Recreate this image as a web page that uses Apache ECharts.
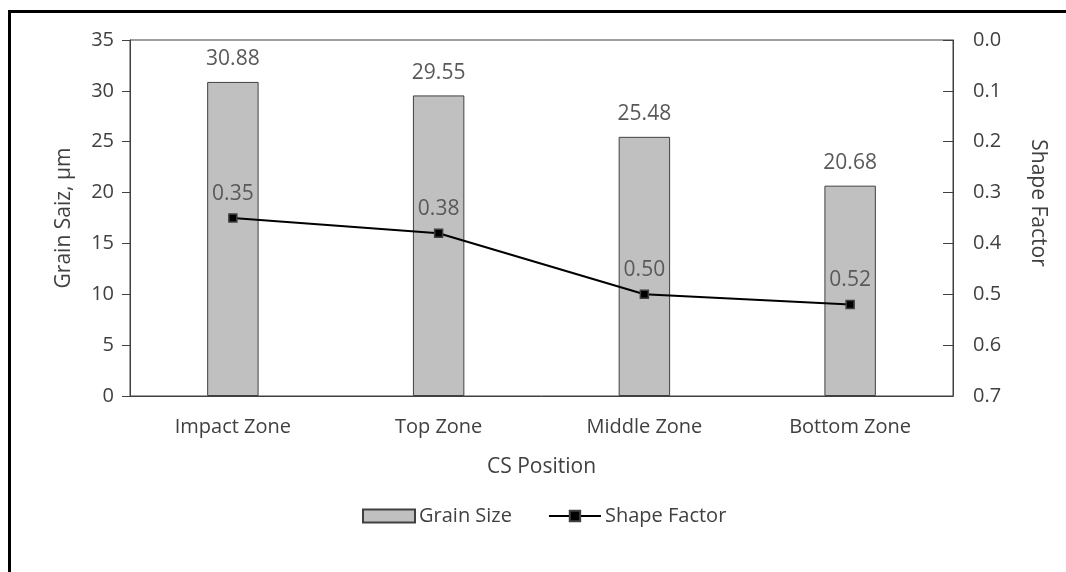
<!DOCTYPE html>
<html>
<head>
<meta charset="utf-8">
<script src="https://cdn.jsdelivr.net/npm/echarts@6/dist/echarts.min.js"></script>
<style>
  html, body { margin: 0; padding: 0; background: #fff; }
  #chart { width: 1066px; height: 572px; }
</style>
</head>
<body>
<div id="chart"></div>
<script>
// data
var positions = ['Impact Zone', 'Top Zone', 'Middle Zone', 'Bottom Zone'];
var grainSize = [30.88, 29.55, 25.48, 20.68];
var shapeFactor = [0.35, 0.38, 0.50, 0.52];

var font = 'Open Sans';
var txt = '#404040';

var myChart = echarts.init(document.getElementById('chart'));

myChart.setOption({
    animation: false,
    textStyle: { fontFamily: font },
    // outer frame of the picture (only left + top edges are visible)
    graphic: [{
        type: 'rect',
        shape: { x: 9.5, y: 11.5, width: 1200, height: 700 },
        style: { fill: 'none', stroke: '#000', lineWidth: 3 },
        silent: true
    }],
    grid: {
        left: 130, right: 113, top: 40, bottom: 176,
        show: true,
        borderColor: '#404040',
        borderWidth: 1
    },
    legend: {
        bottom: 41,
        left: 357,
        itemWidth: 52,
        itemHeight: 13,
        itemGap: 36,
        textStyle: { fontFamily: font, fontSize: 20, color: txt, padding: [0, 0, 0, -1] },
        data: [
            { name: 'Grain Size', icon: 'rect' },
            { name: 'Shape Factor' }
        ]
    },
    xAxis: {
        type: 'category',
        data: positions,
        name: 'CS Position',
        nameLocation: 'middle',
        nameGap: 61,
        nameTextStyle: { fontFamily: font, fontSize: 21, color: txt },
        axisLine: { lineStyle: { color: '#404040', width: 1 } },
        axisTick: { show: false },
        axisLabel: { fontFamily: font, fontSize: 20, color: txt, margin: 21 }
    },
    yAxis: [
        {
            type: 'value',
            min: 0, max: 35, interval: 5,
            name: 'Grain Saiz, µm',
            nameLocation: 'middle',
            nameRotate: 90,
            nameGap: 55,
            nameTextStyle: { fontFamily: font, fontSize: 21, color: txt },
            axisLine: { show: true, lineStyle: { color: '#404040', width: 1 } },
            axisTick: { show: true, length: 8, lineStyle: { color: '#404040' } },
            axisLabel: { fontFamily: font, fontSize: 20, color: txt, margin: 16 },
            splitLine: { show: false }
        },
        {
            type: 'value',
            min: 0, max: 0.7, interval: 0.1,
            inverse: true,
            position: 'right',
            name: 'Shape Factor',
            nameLocation: 'middle',
            nameRotate: -90,
            nameGap: 74,
            nameTextStyle: { fontFamily: font, fontSize: 21, color: txt, padding: [0, 30, 0, 0] },
            axisLine: { show: true, lineStyle: { color: '#404040', width: 1 } },
            axisTick: { show: true, inside: true, length: 10, lineStyle: { color: '#404040' } },
            axisLabel: {
                fontFamily: font, fontSize: 20, color: txt, margin: 20,
                formatter: function (v) { return v.toFixed(1); }
            },
            splitLine: { show: false }
        }
    ],
    series: [
        {
            name: 'Grain Size',
            type: 'bar',
            barWidth: '25%',
            data: grainSize,
            itemStyle: { color: '#c0c0c0', borderColor: '#404040', borderWidth: 1 },
            label: {
                show: true,
                position: 'top',
                distance: 12,
                fontFamily: font,
                fontSize: 21,
                color: '#595959',
                formatter: function (p) { return p.value.toFixed(2); }
            }
        },
        {
            name: 'Shape Factor',
            type: 'line',
            yAxisIndex: 1,
            data: shapeFactor,
            symbol: 'rect',
            symbolSize: 8,
            lineStyle: { color: '#000', width: 2 },
            itemStyle: { color: '#000', borderColor: '#404040', borderWidth: 1.5 },
            label: {
                show: true,
                position: 'top',
                distance: 9,
                fontFamily: font,
                fontSize: 21,
                color: '#595959',
                formatter: function (p) { return p.value.toFixed(2); }
            }
        }
    ]
});
</script>
</body>
</html>
